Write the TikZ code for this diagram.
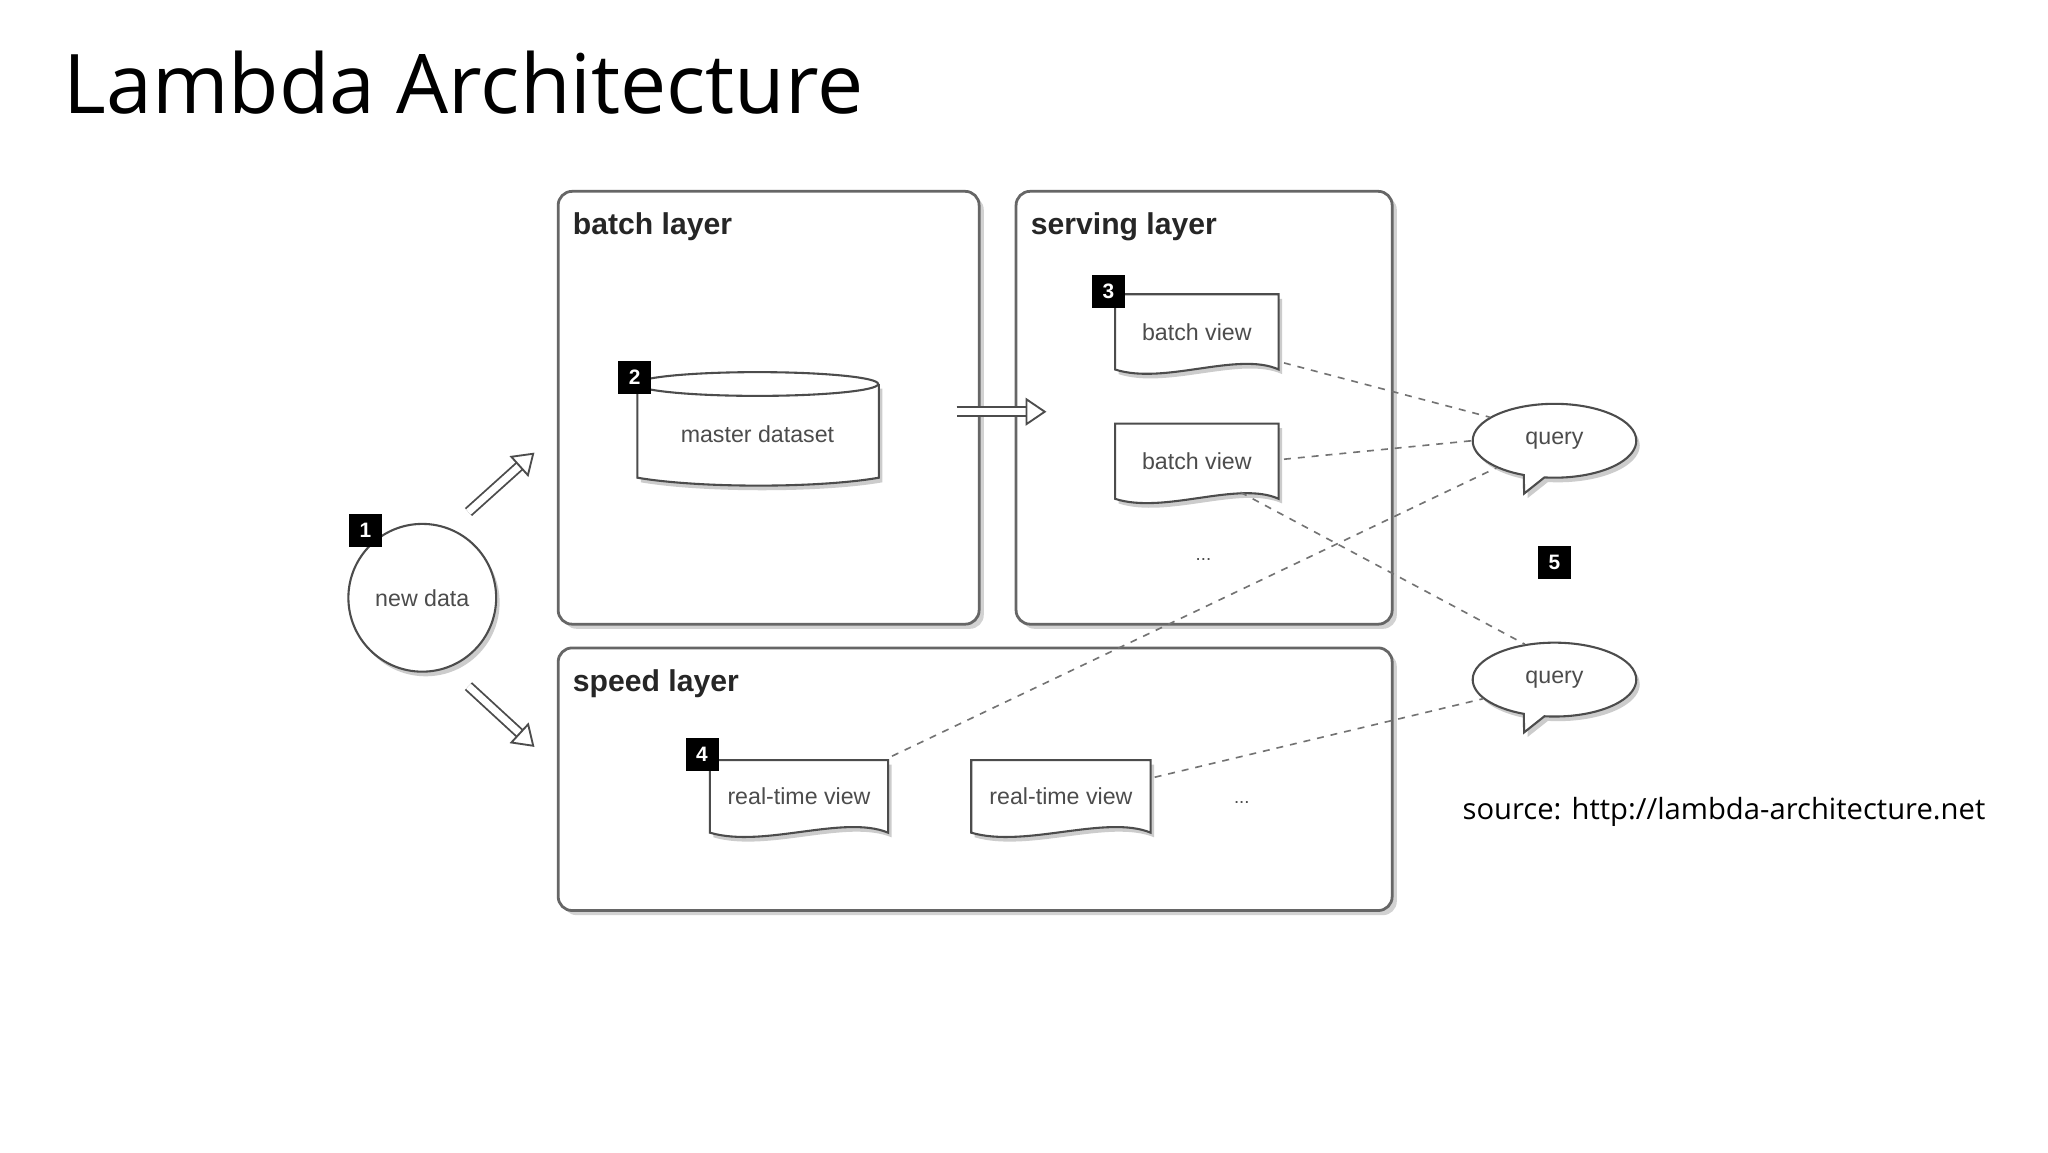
\documentclass[tikz,border=0pt]{standalone}
\usepackage{fontspec}
\setmainfont{Liberation Sans}
\newfontfamily\titlefont{Open Sans}
\usetikzlibrary{shapes.geometric,shapes.callouts,shadows,arrows.meta}
\begin{document}
\begin{tikzpicture}[x=0.02cm,y=-0.02cm,
  box/.style={draw=black!60,line width=1.2pt,rounded corners=6pt,fill=white,drop shadow={shadow xshift=2pt,shadow yshift=-2pt,opacity=0.35}},
  lay/.style={anchor=west,font=\bfseries\fontsize{13}{16}\selectfont,text=black!85},
  badge/.style={fill=black,text=white,font=\bfseries\fontsize{9}{11}\selectfont,minimum size=0.5cm,inner sep=0pt},
  lbl/.style={font=\fontsize{10}{12}\selectfont,text=black!70},
  docs/.style={draw=black!70,line width=0.9pt,fill=white,drop shadow={shadow xshift=1.5pt,shadow yshift=-2pt,opacity=0.4}},
  qdash/.style={draw=black!55,dashed,line width=0.7pt},
  harrow/.style={-{Triangle[open,length=9pt,width=12pt]},draw=black!70,double=white,double distance=3pt,line width=0.8pt}]
\useasboundingbox[fill=white] (0,0) rectangle (1552,873);
\node[anchor=base west,font=\titlefont\fontsize{35.5}{42}\selectfont,inner sep=0pt] (title) at (48,86) {Lambda Architecture};
% boxes
\draw[box] (423,145) rectangle (742,473);
\node[lay] (bl) at (428,172) {batch layer};
\draw[box] (770,145) rectangle (1055,473);
\node[lay] (sl) at (775,172) {serving layer};
\draw[box] (423,491) rectangle (1055,690);
\node[lay] (spl) at (428,518) {speed layer};
% new data
\node[circle,draw=black!70,line width=0.9pt,fill=white,minimum size=2.24cm,lbl,drop shadow={shadow xshift=1.5pt,shadow yshift=-2pt,opacity=0.4}] (nd) at (320,453) {new data};
\node[badge] (b1) at (277,402) {1};
% cylinder
\draw[docs] (483,291) -- (483,362) .. controls (530,370) and (620,370) .. (666,362) -- (666,291);
\draw[draw=black!70,line width=0.9pt,fill=white] (574,291) ellipse (91.5 and 9);
\node[lbl] (md) at (574,329) {master dataset};
\node[badge] (b2) at (481,286) {2};
% docs
\newcommand{\mydoc}[6]{%
 \draw[docs] (#2,#3) -- (#2+#4,#3) -- (#2+#4,#3+#5) .. controls (#2+0.75*#4,#3+#5-14) and (#2+0.3*#4,#3+#5+12) .. (#2,#3+#5) -- cycle;
 \node[lbl] (#1) at (#2+0.5*#4,#3+0.5*#5) {#6};}
\mydoc{bv1}{845}{223}{124}{57}{batch view}
\mydoc{bv2}{845}{321}{124}{57}{batch view}
\mydoc{rt1}{538}{576}{135}{55}{real-time view}
\mydoc{rt2}{736}{576}{136}{55}{real-time view}
\node[badge] (b3) at (840,221) {3};
\node[badge] (b4) at (532,572) {4};
\node[lbl,font=\fontsize{8}{10}\selectfont] (d1) at (912,424) {...};
\node[lbl,font=\fontsize{8}{10}\selectfont] (d2) at (941,608) {...};
% queries
\node[ellipse callout,draw=black!70,line width=0.9pt,fill=white,minimum width=2.48cm,minimum height=1.12cm,lbl,callout absolute pointer={(1155,374)},drop shadow={shadow xshift=1.5pt,shadow yshift=-2pt,opacity=0.4}] (q1) at (1178,334) {query};
\node[ellipse callout,draw=black!70,line width=0.9pt,fill=white,minimum width=2.48cm,minimum height=1.12cm,lbl,callout absolute pointer={(1155,555)},drop shadow={shadow xshift=1.5pt,shadow yshift=-2pt,opacity=0.4}] (q2) at (1178,515) {query};
\node[badge] (b5) at (1178,426) {5};
% arrows
\coordinate (a1s) at (355,388); \coordinate (a1e) at (405,343);
\coordinate (a2s) at (355,520); \coordinate (a2e) at (405,566);
\coordinate (a3s) at (725,312); \coordinate (a3e) at (793,312);
\draw[harrow] (a1s) -- (a1e);
\draw[harrow] (a2s) -- (a2e);
\draw[harrow] (a3s) -- (a3e);
% dashed
\coordinate (c1) at (973,275); \coordinate (c2) at (973,348);
\coordinate (c3) at (940,373); \coordinate (c4) at (676,573);
\coordinate (c5) at (875,589);
\draw[qdash] (c1) -- (q1.160);
\draw[qdash] (c2) -- (q1.west);
\draw[qdash] (c3) -- (q2.130);
\draw[qdash] (c4) -- (q1.205);
\draw[qdash] (c5) -- (q2.195);
\node[anchor=west,font=\titlefont\fontsize{12.6}{15}\selectfont,inner sep=0pt] (src) at (1108,615) {source: http://lambda-architecture.net};
\end{tikzpicture}
\end{document}
